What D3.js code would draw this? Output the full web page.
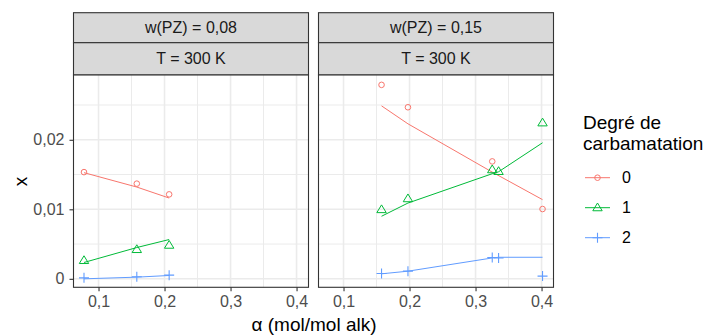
<!DOCTYPE html>
<html><head><meta charset="utf-8">
<script src="https://cdn.jsdelivr.net/npm/d3@7"></script>
<style>body{margin:0;background:#fff}svg{display:block}text{font-family:"Liberation Sans",Arial,sans-serif}</style>
</head><body><svg id="c" width="708" height="336"></svg>
<script>
// ---- data ----
const panelLabels = ["w(PZ) = 0,08", "w(PZ) = 0,15"];
const tempLabel = "T = 300 K";
const degrees = ["0", "1", "2"];
const alpha08 = [0.078, 0.158, 0.207];
const obs08_0 = [0.01535, 0.01369, 0.01215];
const obs08_1 = [0.00264, 0.00422, 0.00484];
const obs08_2 = [0.00014, 0.00030, 0.00053];
const fit08_0 = [0.01527, 0.01320, 0.01162];
const fit08_1 = [0.00235, 0.00450, 0.00565];
const fit08_2 = [0.00000, 0.00024, 0.00048];
const alpha15 = [0.1576, 0.1976, 0.3253, 0.3349, 0.4015];
const alpha15r = [0.1576, 0.1976, 0.3253, 0.4015];
const obs15_0 = [0.0279, 0.02468, 0.01689, 0.01004];
const fit15_0 = [0.02488, 0.0223, 0.01535, 0.01139];
const obs15_1 = [0.00996, 0.01153, 0.0157, 0.01545, 0.02244];
const fit15_1 = [0.0090, 0.0109, 0.01512, 0.0154, 0.01957];
const obs15_2 = [0.00077, 0.0011, 0.00307, 0.0030, 0.00039];
const fit15_2 = [0.00072, 0.0011, 0.0030, 0.0031, 0.0031];
const xTicks = [0.1, 0.2, 0.3, 0.4];
const xTickLabels = ["0,1", "0,2", "0,3", "0,4"];
const yTicks = [0, 0.01, 0.02];
const yTickLabels = ["0", "0,01", "0,02"];
const xMinor = [0.15, 0.25, 0.35];
const yMinor = [0.005, 0.015, 0.025];
const colors = ["#F8766D", "#00BA38", "#619CFF"];

const panels = [
  {label: panelLabels[0], left: 73.5, series: [
    {d: 0, x: alpha08, obs: obs08_0, fx: alpha08, fit: fit08_0},
    {d: 1, x: alpha08, obs: obs08_1, fx: alpha08, fit: fit08_1},
    {d: 2, x: alpha08, obs: obs08_2, fx: alpha08, fit: fit08_2}]},
  {label: panelLabels[1], left: 318.5, series: [
    {d: 0, x: alpha15r, obs: obs15_0, fx: alpha15r, fit: fit15_0},
    {d: 1, x: alpha15, obs: obs15_1, fx: alpha15, fit: fit15_1},
    {d: 2, x: alpha15, obs: obs15_2, fx: alpha15, fit: fit15_2}]}
];

const svg = d3.select("#c");
const pw = 235, top1 = 12.7, top2 = 42.7, pTop = 75, pBot = 287.3;
const y = d3.scaleLinear().domain([-0.00122, 0.02932]).range([pBot, pTop]);
const FS = 16;

function drawShape(g, d, cx, cy, col) {
  if (d === 0) {
    g.append("circle").attr("cx", cx).attr("cy", cy).attr("r", 2.8)
      .attr("fill", "none").attr("stroke", col).attr("stroke-width", 1);
  } else if (d === 1) {
    const s = 4.7;
    g.append("path").attr("d", `M${cx},${cy - s} L${cx + s},${cy + s * 0.65} L${cx - s},${cy + s * 0.65} Z`)
      .attr("fill", "none").attr("stroke", col).attr("stroke-width", 1);
  } else {
    const s = 5;
    g.append("path").attr("d", `M${cx - s},${cy} H${cx + s} M${cx},${cy - s} V${cy + s}`)
      .attr("stroke", col).attr("stroke-width", 1.1);
  }
}

panels.forEach((p, i) => {
  const x = d3.scaleLinear().domain([0.0621, 0.4181]).range([p.left, p.left + pw]);
  const g = svg.append("g");
  g.append("rect").attr("x", p.left).attr("y", top1).attr("width", pw).attr("height", top2 - top1)
    .attr("fill", "#D9D9D9").attr("stroke", "#333").attr("stroke-width", 1.1);
  g.append("rect").attr("x", p.left).attr("y", top2).attr("width", pw).attr("height", pTop - top2)
    .attr("fill", "#D9D9D9").attr("stroke", "#333").attr("stroke-width", 1.1);
  g.append("text").attr("x", p.left + pw / 2).attr("y", (top1 + top2) / 2).attr("text-anchor", "middle")
    .attr("dominant-baseline", "central").attr("font-size", FS).attr("fill", "#1A1A1A").text(p.label);
  g.append("text").attr("x", p.left + pw / 2).attr("y", (top2 + pTop) / 2).attr("text-anchor", "middle")
    .attr("dominant-baseline", "central").attr("font-size", FS).attr("fill", "#1A1A1A").text(tempLabel);
  g.append("rect").attr("x", p.left).attr("y", pTop).attr("width", pw).attr("height", pBot - pTop).attr("fill", "#fff");
  xMinor.forEach(v => g.append("line").attr("x1", x(v)).attr("x2", x(v)).attr("y1", pTop).attr("y2", pBot)
    .attr("stroke", "#EBEBEB").attr("stroke-width", 1));
  yMinor.forEach(v => g.append("line").attr("x1", p.left).attr("x2", p.left + pw).attr("y1", y(v)).attr("y2", y(v))
    .attr("stroke", "#EBEBEB").attr("stroke-width", 1));
  xTicks.forEach(v => g.append("line").attr("x1", x(v)).attr("x2", x(v)).attr("y1", pTop).attr("y2", pBot)
    .attr("stroke", "#EBEBEB").attr("stroke-width", 1.6));
  yTicks.forEach(v => g.append("line").attr("x1", p.left).attr("x2", p.left + pw).attr("y1", y(v)).attr("y2", y(v))
    .attr("stroke", "#EBEBEB").attr("stroke-width", 1.6));
  p.series.forEach(s => {
    const col = colors[s.d];
    const pts = s.fx.map((v, k) => [x(v), y(s.fit[k])]);
    g.append("path").attr("d", d3.line()(pts)).attr("fill", "none").attr("stroke", col).attr("stroke-width", 1);
    s.x.forEach((v, k) => drawShape(g, s.d, x(v), y(s.obs[k]), col));
  });
  g.append("rect").attr("x", p.left).attr("y", pTop).attr("width", pw).attr("height", pBot - pTop)
    .attr("fill", "none").attr("stroke", "#333").attr("stroke-width", 1.1);
  const xa = g.append("g").attr("transform", `translate(0,${pBot})`)
    .call(d3.axisBottom(x).tickValues(xTicks).tickFormat((d, k) => xTickLabels[k]).tickSize(4).tickPadding(4));
  xa.select(".domain").remove();
  xa.selectAll("line").attr("stroke", "#333").attr("stroke-width", 1.1);
  xa.selectAll("text").attr("font-size", FS).attr("fill", "#4D4D4D").attr("font-family", "Liberation Sans, Arial, sans-serif");
  if (i === 0) {
    const ya = g.append("g").attr("transform", `translate(${p.left},0)`)
      .call(d3.axisLeft(y).tickValues(yTicks).tickFormat((d, k) => yTickLabels[k]).tickSize(4).tickPadding(5));
    ya.select(".domain").remove();
    ya.selectAll("line").attr("stroke", "#333").attr("stroke-width", 1.1);
    ya.selectAll("text").attr("font-size", FS).attr("fill", "#4D4D4D").attr("font-family", "Liberation Sans, Arial, sans-serif");
  }
});

svg.append("text").attr("x", 314).attr("y", 324.5).attr("text-anchor", "middle").attr("dominant-baseline", "central")
  .attr("font-size", 19).attr("fill", "#000").text("α (mol/mol alk)");
svg.append("text").attr("transform", "translate(20,181.5) rotate(-90)").attr("text-anchor", "middle")
  .attr("dominant-baseline", "central").attr("font-size", 19).attr("fill", "#000").text("x");

const lg = svg.append("g");
lg.append("text").attr("x", 583).attr("y", 129).attr("font-size", 19).attr("fill", "#000").text("Degré de");
lg.append("text").attr("x", 583).attr("y", 149.5).attr("font-size", 19).attr("fill", "#000").text("carbamatation");
const legY = [177.7, 207.7, 237.7];
degrees.forEach((dname, k) => {
  lg.append("line").attr("x1", 585).attr("x2", 610).attr("y1", legY[k]).attr("y2", legY[k])
    .attr("stroke", colors[k]).attr("stroke-width", 1);
  drawShape(lg, k, 597.5, legY[k], colors[k]);
  lg.append("text").attr("x", 622).attr("y", legY[k]).attr("dominant-baseline", "central")
    .attr("font-size", FS).attr("fill", "#000").text(dname);
});
</script></body></html>
